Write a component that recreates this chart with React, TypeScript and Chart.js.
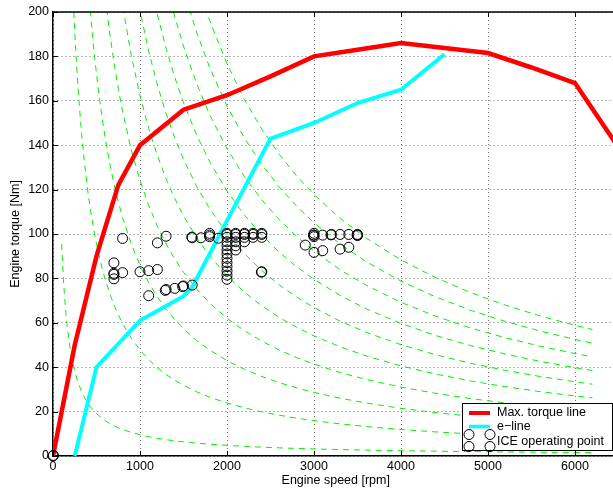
import React, { useEffect, useRef } from "react";
import { Chart, registerables } from "chart.js";

Chart.register(...registerables);

// ---- Data ----
const maxTorqueSpeed = [0, 250, 500, 750, 1000, 1500, 2000, 2500, 3000, 3500, 4000, 5000, 5500, 6000, 6500];
const maxTorqueValue = [0, 50, 90, 122, 140, 156, 162.5, 171, 180, 183, 186, 181.5, 175, 168, 139];

const eLineSpeed = [250, 500, 1000, 1500, 1600, 2000, 2500, 3000, 3500, 4000, 4500];
const eLineTorque = [0, 40, 61, 72, 76, 106, 143, 150, 159, 165, 181];

const iceSpeed = [
  0, 5,
  800, 700, 700, 700, 700, 800, 1000, 1100, 1200, 1100, 1200, 1300,
  1300, 1290, 1400, 1500, 1490, 1600, 1600, 1595, 1700,
  1800, 1800, 1800, 1900,
  2000, 2000, 2000, 2000, 2000, 2000, 2000, 2000, 2000, 2000, 2000, 2000, 2000,
  2100, 2100, 2100, 2100, 2100, 2100,
  2200, 2200, 2200, 2200,
  2300, 2300, 2300,
  2400, 2400, 2400, 2400, 2395,
  3000, 3000, 3000, 2995, 3100, 3200, 3195, 3300, 3400, 3500, 3500, 3495,
  2900, 3000, 3100, 3300, 3400,
];
const iceTorque = [
  0, 0.3,
  98, 87, 82.3, 81.8, 79.8, 82.6, 83, 83.5, 84, 72.2, 96, 99,
  75, 74.6, 75.5, 76.6, 76.3, 77, 98.3, 98.6, 98.3,
  100.3, 99.5, 98.8, 98.1,
  100.3, 99.8, 98.5, 96.5, 94.7, 92.8, 91, 89, 87.1, 85.3, 83.3, 81.5, 79.6,
  100.3, 99.8, 98.5, 96.5, 94.7, 92.8,
  100.3, 99.8, 98.5, 96.5,
  100.3, 99.8, 98.5,
  100.3, 99.8, 98.5, 83, 82.8,
  100.3, 99.5, 98.8, 99.5, 99.5, 99.8, 99.6, 99.8, 99.8, 99.8, 99.3, 99.6,
  95, 91.7, 92.5, 93.2, 94,
];

// Constant-power lines (kW); torque = 9549 * P / n
const isoPowerKW = [1, 5, 9, 13, 17, 21, 25, 29, 33, 37];
const isoSpeedGrid = [
  100, 110, 120, 130, 140, 150, 165, 180, 200, 220, 240, 260, 280, 300, 330, 360, 400, 440, 480,
  520, 560, 600, 650, 700, 750, 800, 900, 1000, 1100, 1200, 1300, 1400, 1500, 1650, 1800, 2000,
  2200, 2400, 2600, 2800, 3000, 3300, 3600, 4000, 4400, 4800, 5200, 5600, 6000, 6200,
];

const xTickValues = [0, 1000, 2000, 3000, 4000, 5000, 6000];
const yTickValues = [0, 20, 40, 60, 80, 100, 120, 140, 160, 180, 200];

const FONT = "'Liberation Sans', Arial, Helvetica, sans-serif";

export default function App() {
  const ref = useRef<HTMLCanvasElement>(null);

  useEffect(() => {
    const canvas = ref.current!;

    const isoDatasets = isoPowerKW.map((p) => ({
      label: p + " kW",
      data: isoSpeedGrid.map((n) => ({ x: n, y: (9549 * p) / n })),
      showLine: true,
      borderColor: "#00f000",
      borderWidth: 1,
      borderDash: [6, 5],
      pointRadius: 0,
      tension: 0,
      order: 4,
    }));

    const framePlugin = {
      id: "matlabFrame",
      afterDatasetsDraw(chart: any) {
        const { ctx, chartArea: a, scales } = chart;
        ctx.save();
        ctx.strokeStyle = "#000";
        ctx.lineWidth = 1.5;
        ctx.beginPath();
        ctx.moveTo(a.left, a.top);
        ctx.lineTo(a.right, a.top);
        ctx.lineTo(a.right, a.bottom);
        ctx.stroke();
        ctx.lineWidth = 1;
        const tl = 5;
        ctx.beginPath();
        scales.x.ticks.forEach((t: any) => {
          const px = Math.round(scales.x.getPixelForValue(t.value)) + 0.5;
          ctx.moveTo(px, a.bottom);
          ctx.lineTo(px, a.bottom - tl);
          ctx.moveTo(px, a.top);
          ctx.lineTo(px, a.top + tl);
        });
        scales.y.ticks.forEach((t: any) => {
          const py = Math.round(scales.y.getPixelForValue(t.value)) + 0.5;
          ctx.moveTo(a.left, py);
          ctx.lineTo(a.left + tl, py);
          ctx.moveTo(a.right, py);
          ctx.lineTo(a.right - tl, py);
        });
        ctx.stroke();
        ctx.restore();
      },
      afterDraw(chart: any) {
        const { ctx } = chart;
        ctx.save();
        const bx = 462.5, by = 403.5, bw = 150, bh = 47;
        ctx.fillStyle = "#fff";
        ctx.fillRect(bx, by, bw, bh);
        ctx.strokeStyle = "#000";
        ctx.lineWidth = 1;
        ctx.strokeRect(bx, by, bw, bh);
        ctx.strokeStyle = "#ff0000";
        ctx.lineWidth = 4;
        ctx.beginPath();
        ctx.moveTo(469, 413);
        ctx.lineTo(490, 413);
        ctx.stroke();
        ctx.strokeStyle = "#00ffff";
        ctx.lineWidth = 3.5;
        ctx.beginPath();
        ctx.moveTo(469, 426.5);
        ctx.lineTo(490, 426.5);
        ctx.stroke();
        ctx.strokeStyle = "#000";
        ctx.lineWidth = 1;
        [[469, 434.5], [490, 434.5], [469, 446.5], [490, 446.5]].forEach(([cx, cy]) => {
          ctx.beginPath();
          ctx.arc(cx, cy, 5, 0, Math.PI * 2);
          ctx.stroke();
        });
        ctx.fillStyle = "#000";
        ctx.font = "12.5px " + FONT;
        ctx.textBaseline = "middle";
        ctx.textAlign = "left";
        ctx.fillText("Max. torque line", 497, 413);
        ctx.fillText("e\u2212line", 497, 427);
        ctx.fillText("ICE operating point", 497, 441.5);
        ctx.restore();
      },
    };

    const chart = new Chart(canvas, {
      type: "scatter",
      data: {
        datasets: [
          ...isoDatasets,
          {
            label: "Max. torque line",
            data: maxTorqueSpeed.map((x, i) => ({ x, y: maxTorqueValue[i] })),
            showLine: true,
            borderColor: "#ff0000",
            borderWidth: 4.5,
            pointRadius: 0,
            tension: 0,
            order: 3,
          },
          {
            label: "e-line",
            data: eLineSpeed.map((x, i) => ({ x, y: eLineTorque[i] })),
            showLine: true,
            borderColor: "#00ffff",
            borderWidth: 4,
            pointRadius: 0,
            tension: 0,
            order: 2,
          },
          {
            label: "ICE operating point",
            data: iceSpeed.map((x, i) => ({ x, y: iceTorque[i] })),
            showLine: false,
            pointStyle: "circle",
            pointRadius: 5,
            pointBorderWidth: 1,
            borderColor: "#000",
            backgroundColor: "rgba(0,0,0,0)",
            pointBackgroundColor: "rgba(0,0,0,0)",
            clip: false,
            order: 1,
          },
        ] as any,
      },
      options: {
        responsive: false,
        maintainAspectRatio: false,
        devicePixelRatio: 1,
        animation: false,
        layout: { padding: { top: 12, right: 21.5, bottom: 0, left: 0 } },
        plugins: {
          legend: { display: false },
          tooltip: { enabled: false },
        },
        scales: {
          x: {
            type: "linear",
            min: 0,
            max: 6500,
            afterBuildTicks: (s: any) => {
              s.ticks = xTickValues.map((v) => ({ value: v }));
            },
            afterFit: (s: any) => {
              s.height = 35;
            },
            ticks: {
              padding: 3,
              color: "#000",
              font: { family: FONT, size: 12.5 },
              maxRotation: 0,
              autoSkip: false,
              callback: (v: any) => String(v),
            },
            grid: { drawTicks: false, color: "rgba(0,0,0,0.55)", lineWidth: 1 },
            border: { color: "#000", width: 1.5, dash: [1, 3] },
            title: {
              display: true,
              text: "Engine speed [rpm]",
              color: "#000",
              font: { family: FONT, size: 12.5 },
              padding: { top: 0, bottom: 2.5 },
            },
          },
          y: {
            type: "linear",
            min: 0,
            max: 200,
            afterBuildTicks: (s: any) => {
              s.ticks = yTickValues.map((v) => ({ value: v }));
            },
            afterFit: (s: any) => {
              s.width = 53;
            },
            ticks: {
              padding: 4,
              color: "#000",
              font: { family: FONT, size: 12.5 },
              autoSkip: false,
              callback: (v: any) => String(v),
            },
            grid: { drawTicks: false, color: "rgba(0,0,0,0.55)", lineWidth: 1 },
            border: { color: "#000", width: 1.5, dash: [1, 3] },
            title: {
              display: true,
              text: "Engine torque [Nm]",
              color: "#000",
              font: { family: FONT, size: 12.5 },
              padding: { top: 8.5, bottom: 0 },
            },
          },
        },
      } as any,
      plugins: [framePlugin],
    });

    return () => chart.destroy();
  }, []);

  return (
    <div
      style={{
        position: "fixed",
        left: 0,
        top: 0,
        width: 613,
        height: 491,
        overflow: "hidden",
        background: "#fff",
      }}
    >
      <canvas ref={ref} width={640} height={491} style={{ display: "block", width: 640, height: 491 }} />
    </div>
  );
}
